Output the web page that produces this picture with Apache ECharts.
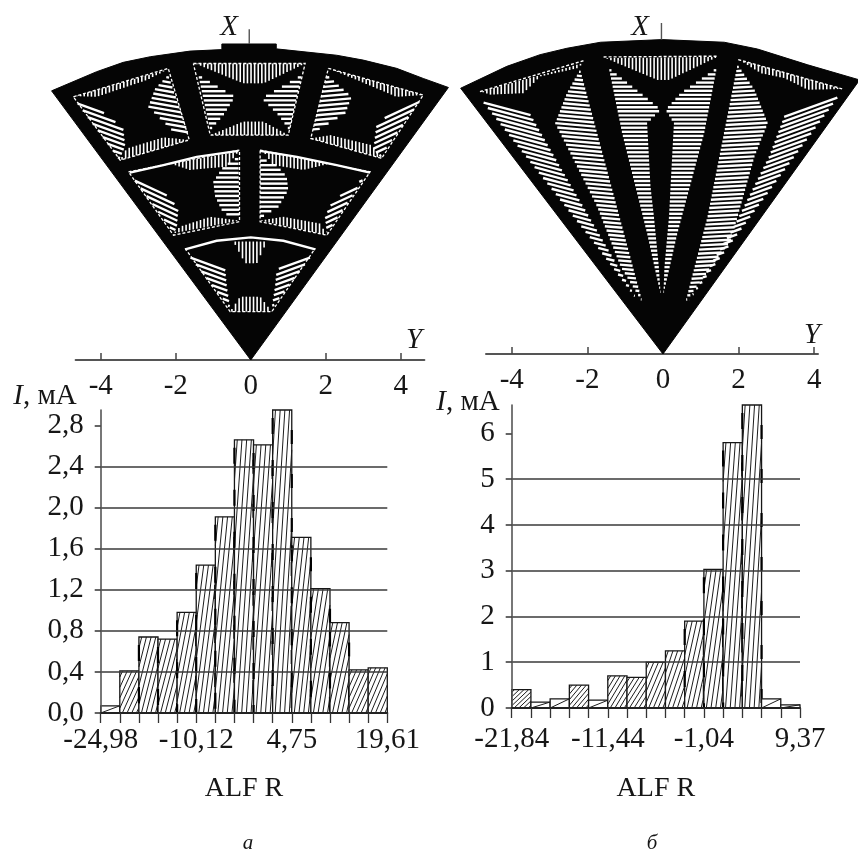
<!DOCTYPE html>
<html><head><meta charset="utf-8">
<style>html,body{margin:0;padding:0;background:#fff}#c{width:858px;height:850px}</style>
<script src="https://cdn.jsdelivr.net/npm/echarts@6/dist/echarts.min.js"></script>
</head><body><div id="c"></div>
<script>
// Histograms
const histAValues = [0.07,0.41,0.74,0.72,0.98,1.44,1.91,2.66,2.61,2.95,1.71,1.21,0.88,0.42,0.44];
const histBValues = [0.40,0.13,0.20,0.50,0.17,0.70,0.67,1.00,1.25,1.90,3.03,5.80,6.62,0.20,0.07];
const histAEdges = {0:'-24,98',5:'-10,12',10:'4,75',15:'19,61'};
const histBEdges = {0:'-21,84',5:'-11,44',10:'-1,04',15:'9,37'};
const histATicks = [0,0.4,0.8,1.2,1.6,2.0,2.4,2.8];
const histBTicks = [0,1,2,3,4,5,6];
const fanTicks = [-4,-2,0,2,4];
// Fan outlines, in X/Y units of each fan's axes
const fanAOutline = [[0,0],[-5.31,7.18],[-4.11,7.69],[-3.40,7.94],[-2.68,8.09],[-1.62,8.24],[-0.77,8.28],[-0.77,8.43],[0.68,8.43],[0.68,8.30],[2.29,8.13],[3.00,8.00],[3.89,7.78],[4.60,7.51],[5.27,7.27]];
const fanBOutline = [[0,0],[-5.35,7.05],[-4.13,7.63],[-3.25,7.94],[-2.54,8.11],[-1.65,8.27],[-0.02,8.34],[1.62,8.27],[2.50,8.09],[3.83,7.67],[5.20,7.27]];
// Striped white zones: tilt in degrees, then polygon
const fanAZones = [
 [-20,[[-4.68,6.93],[-4.02,6.67],[-3.40,6.18],[-3.35,5.69],[-3.50,5.35]]],
 [-10,[[-2.20,7.60],[-1.64,5.96],[-2.06,6.09],[-2.73,6.76],[-2.55,7.24]]],
 [90,[[-4.68,7.04],[-2.20,7.76],[-2.77,7.47],[-4.11,7.02]]],
 [90,[[-3.48,5.33],[-1.64,5.87],[-2.33,5.94],[-3.31,5.64]]],
 [0,[[-1.40,7.60],[-0.42,7.02],[-0.73,6.53],[-1.08,6.13]]],
 [0,[[1.36,7.60],[0.29,6.98],[0.74,6.53],[1.03,6.13]]],
 [90,[[-1.48,7.91],[1.45,7.91],[0.34,7.38],[-0.20,7.38]]],
 [90,[[-1.08,6.00],[1.00,6.00],[0.34,6.36],[-0.20,6.36]]],
 [5,[[2.03,7.60],[2.69,7.02],[2.52,6.58],[1.63,6.04]]],
 [25,[[4.56,6.98],[3.45,5.42],[3.27,5.60],[3.36,6.31],[3.89,6.67]]],
 [90,[[2.07,7.78],[4.60,7.07],[3.89,7.02],[2.83,7.47]]],
 [90,[[1.60,5.91],[3.49,5.38],[3.23,5.73],[2.12,6.00]]],
 [-25,[[-3.17,4.89],[-2.33,4.49],[-1.93,4.04],[-1.97,3.56],[-2.04,3.38]]],
 [0,[[-0.33,5.42],[-0.30,3.78],[-0.73,3.91],[-0.95,4.36],[-1.00,4.76],[-0.73,5.16]]],
 [90,[[-2.15,5.24],[-0.33,5.56],[-0.64,5.16],[-1.62,5.07]]],
 [90,[[-2.06,3.38],[-0.30,3.72],[-1.08,3.82],[-1.88,3.56]]],
 [0,[[0.25,5.38],[0.25,3.78],[0.74,4.09],[1.00,4.53],[0.96,4.89],[0.65,5.24]]],
 [25,[[3.05,4.89],[2.03,3.38],[1.98,3.82],[2.20,4.27],[2.65,4.53]]],
 [90,[[0.34,5.56],[2.12,5.24],[1.40,5.07],[0.60,5.20]]],
 [90,[[0.25,3.72],[2.03,3.33],[1.85,3.64],[0.87,3.82]]],
 [-20,[[-1.66,2.80],[-0.55,1.38],[-0.64,1.96],[-0.68,2.40],[-1.26,2.67]]],
 [20,[[1.63,2.80],[0.56,1.38],[0.65,1.96],[0.69,2.40],[1.23,2.67]]],
 [90,[[-0.46,3.16],[0.43,3.16],[0.16,2.58],[-0.15,2.58]]],
 [90,[[-0.55,1.29],[0.56,1.29],[0.25,1.69],[-0.28,1.69]]]
];
const fanBZones = [
 [-15,[[-4.80,6.74],[-3.51,6.35],[-2.63,4.80],[-0.68,1.43],[-1.74,2.85]]],
 [-5,[[-2.19,7.54],[-0.55,1.39],[-1.12,2.32],[-1.74,3.91],[-2.36,5.15],[-2.85,6.12],[-2.54,6.92]]],
 [90,[[-4.80,6.96],[-2.10,7.72],[-2.27,7.58],[-3.25,7.36],[-3.69,6.92],[-4.58,6.88]]],
 [0,[[-1.43,7.58],[-0.37,6.74],[-0.06,6.48],[-0.42,6.12],[-0.33,4.44],[-0.24,3.65],[-0.11,2.32],[-0.06,1.57],[-0.42,3.20],[-1.08,5.86]]],
 [0,[[1.42,7.58],[0.47,6.92],[0.07,6.48],[0.29,6.12],[0.20,4.44],[0.16,3.65],[0.04,2.32],[0.01,1.57],[0.38,3.20],[1.09,5.86]]],
 [90,[[-1.52,7.85],[1.44,7.88],[0.16,7.27],[-0.15,7.27]]],
 [3,[[1.97,7.67],[2.42,7.01],[2.77,6.12],[2.42,5.24],[1.80,3.03],[0.60,1.39],[1.18,3.65]]],
 [20,[[4.67,6.88],[3.21,6.30],[2.81,5.24],[1.88,3.38],[0.69,1.43]]],
 [90,[[2.00,7.81],[4.74,7.03],[3.83,7.01],[3.21,7.32],[2.59,7.45]]]
];
// White rims along the arc edge of the lower cells
const fanARims = [
 [[-3.22,5.00],[-2.33,5.20],[-1.44,5.42],[-0.33,5.58]],
 [[0.25,5.58],[1.23,5.42],[2.29,5.20],[3.18,5.00]],
 [[-1.75,2.95],[-0.91,3.18],[0,3.27],[0.87,3.18],[1.72,2.95]]
];
// Speckled outline of each cell
const fanACells = [
 [[-4.73,7.02],[-2.20,7.78],[-1.64,5.87],[-3.48,5.33],[-4.73,7.02]],
 [[-1.53,7.91],[1.45,7.91],[1.00,6.00],[-1.08,6.00],[-1.53,7.91]],
 [[2.07,7.78],[4.60,7.07],[3.49,5.38],[1.60,5.91],[2.07,7.78]],
 [[-3.26,5.02],[-0.30,5.60],[-0.30,3.69],[-2.06,3.33],[-3.26,5.02]],
 [[0.25,5.60],[3.18,5.02],[2.03,3.33],[0.25,3.69],[0.25,5.60]],
 [[-1.75,2.98],[-0.55,1.29],[0.56,1.29],[1.72,2.98]]
];
const fanBCells = [
 [[-4.84,6.96],[-2.10,7.78]],
 [[-1.57,7.88],[1.46,7.90]],
 [[1.99,7.81],[4.75,7.03]]
];
const fanAXTick = [[-0.04,8.43],[-0.04,8.82]];
const fanBXTick = [[-0.04,8.34],[-0.04,8.78]];

const FONT = 'Liberation Serif';
const FS = 29;
const INK = '#161616';

function polygonSeries(grid, pts){
  return {type:'custom',xAxisIndex:grid,yAxisIndex:grid,silent:true,clip:false,data:[[0]],
    renderItem:(p,api)=>({type:'polygon',shape:{points:pts.map(q=>api.coord(q))},style:{fill:'#050505',stroke:'#050505',lineWidth:1}})};
}
function stripesSeries(grid, zones, gap){
  return {type:'custom',xAxisIndex:grid,yAxisIndex:grid,silent:true,clip:false,
    data:zones.map((z,i)=>[i]),
    renderItem:(p,api)=>{
      const z=zones[api.value(0)], t=z[0]*Math.PI/180, pts=z[1].map(q=>api.coord(q));
      const dx=Math.cos(t), dy=-Math.sin(t), nx=Math.sin(t), ny=Math.cos(t);
      const proj=pts.map(q=>q[0]*nx+q[1]*ny);
      const step=z[0]===90?3.6:gap, children=[];
      for(let c=Math.min(...proj)+step/2;c<Math.max(...proj);c+=step){
        const hits=[];
        for(let i=0;i<pts.length;i++){
          const j=(i+1)%pts.length,a=proj[i],b=proj[j];
          if((a-c)*(b-c)<0){
            const f=(c-a)/(b-a);
            const x=pts[i][0]+f*(pts[j][0]-pts[i][0]), y=pts[i][1]+f*(pts[j][1]-pts[i][1]);
            hits.push({x,y,s:x*dx+y*dy});
          }
        }
        hits.sort((u,v)=>u.s-v.s);
        for(let k=0;k+1<hits.length;k+=2){
          children.push({type:'line',shape:{x1:hits[k].x,y1:hits[k].y,x2:hits[k+1].x,y2:hits[k+1].y},
            style:{stroke:'#fff',lineWidth:z[0]===90?1.6:2.4}});
        }
      }
      return {type:'group',children};
    }};
}
function polylineSeries(grid, lines, color, width, dash){
  return {type:'custom',xAxisIndex:grid,yAxisIndex:grid,silent:true,clip:false,
    data:lines.map((l,i)=>[i]),
    renderItem:(p,api)=>({type:'polyline',shape:{points:lines[api.value(0)].map(q=>api.coord(q))},
      style:{stroke:color,lineWidth:width,fill:'none',lineDash:dash||null}})};
}
function barsSeries(grid, values){
  return {type:'custom',xAxisIndex:grid,yAxisIndex:grid,silent:true,z:2,
    data:values.map((v,i)=>[i,v]),
    renderItem:(p,api)=>{
      const i=api.value(0),v=api.value(1);
      const a=api.coord([i,v]),b=api.coord([i+1,0]);
      const xl=a[0],xr=b[0],yt=a[1],yb=b[1],w=xr-xl,h=yb-yt;
      const kids=[{type:'rect',shape:{x:xl,y:yt,width:w,height:h},style:{fill:'#fff',stroke:INK,lineWidth:1.3}}];
      const shift=w/h, spacing=h<14?w*3:4.7;
      for(let x0=xl-h*shift+(h<14?h*shift:spacing*0.6);x0<xr;x0+=spacing){
        let s0=0,s1=h;
        if(x0<xl)s0=(xl-x0)/shift;
        if(x0+h*shift>xr)s1=(xr-x0)/shift;
        if(s1<=s0)continue;
        kids.push({type:'line',shape:{x1:x0+s0*shift,y1:yb-s0,x2:x0+s1*shift,y2:yb-s1},style:{stroke:'#1c1c1c',lineWidth:1}});
      }
      if(h>60){
        kids.push({type:'line',shape:{x1:xl,y1:yt+8,x2:xl,y2:yb},style:{stroke:'#000',lineWidth:2.2,lineDash:[16,26]}});
        kids.push({type:'line',shape:{x1:xr,y1:yt+20,x2:xr,y2:yb},style:{stroke:'#000',lineWidth:2.2,lineDash:[14,30]}});
      }
      return {type:'group',children:kids};
    }};
}
function fanAxis(grid,min,max){
  return {type:'value',gridIndex:grid,min,max,
    axisLine:{show:true,onZero:false,lineStyle:{color:'#555',width:2}},
    axisTick:{show:true,inside:true,length:7,customValues:fanTicks,lineStyle:{color:'#444',width:1.5}},
    axisLabel:{customValues:fanTicks,margin:12,color:INK,fontFamily:FONT,fontSize:FS,hideOverlap:false},
    splitLine:{show:false}};
}
function fanY(grid,max){
  return {type:'value',gridIndex:grid,min:0,max,show:false};
}
function histX(grid,edges,name,margin,gap){
  return {type:'value',gridIndex:grid,min:0,max:15,interval:1,z:5,
    name,nameLocation:'middle',nameGap:gap,
    nameTextStyle:{color:INK,fontFamily:FONT,fontSize:FS-1},
    axisLine:{show:true,onZero:false,lineStyle:{color:'#222',width:2}},
    axisTick:{show:true,length:10,lineStyle:{color:'#333',width:1.3}},
    axisLabel:{customValues:[0,5,10,15],formatter:v=>edges[v],margin,color:INK,fontFamily:FONT,fontSize:FS,hideOverlap:false},
    splitLine:{show:false}};
}
function histY(grid,max,ticks,fmt,step,pad,gap){
  return {type:'value',gridIndex:grid,min:0,max,interval:step,z:5,
    name:'{i|I}, мА',nameLocation:'end',nameGap:gap,
    nameTextStyle:{align:'right',verticalAlign:'middle',padding:[0,pad,0,0],color:INK,fontFamily:FONT,fontSize:FS,
      rich:{i:{fontStyle:'italic',fontFamily:FONT,fontSize:FS,color:INK}}},
    axisLine:{show:true,onZero:false,lineStyle:{color:'#555',width:1.6}},
    axisTick:{show:true,length:6,customValues:ticks,lineStyle:{color:'#333',width:1.5}},
    axisLabel:{customValues:ticks,formatter:fmt,margin:17,color:INK,fontFamily:FONT,fontSize:FS,hideOverlap:false},
    splitLine:{show:true,showMaxLine:false,showMinLine:false,lineStyle:{color:'#3a3a3a',width:1.5}}};
}
const italic=(x,y,t,s)=>({type:'text',x,y,style:{text:t,fontFamily:FONT,fontStyle:'italic',fontSize:s,fill:INK,align:'center',verticalAlign:'middle'}});

const option={
  animation:false,backgroundColor:'#fff',
  grid:[
    {left:75.6,top:20,width:348.8,height:340},
    {left:486,top:20,width:332,height:334},
    {left:100.7,top:410,width:286.6,height:303},
    {left:511.7,top:405,width:288.3,height:303}
  ],
  xAxis:[fanAxis(0,-4.67,4.63),fanAxis(1,-4.68,4.1),histX(2,histAEdges,'ALF R',13,62),histX(3,histBEdges,'ALF R',17,67)],
  yAxis:[fanY(0,9.07),fanY(1,8.86),
    histY(2,2.95,histATicks,v=>v.toFixed(1).replace('.',','),0.4,24,14),
    histY(3,6.62,histBTicks,v=>String(v),1,12,3)],
  series:[
    polygonSeries(0,fanAOutline),polylineSeries(0,fanACells,'#fff',1.3,[3,2]),stripesSeries(0,fanAZones,4.6),polylineSeries(0,fanARims,'#fff',2.4),polylineSeries(0,[fanAXTick],'#555',1.4),
    polygonSeries(1,fanBOutline),polylineSeries(1,fanBCells,'#fff',1.4,[3,2]),stripesSeries(1,fanBZones,4.1),polylineSeries(1,[fanBXTick],'#555',1.4),
    barsSeries(2,histAValues),barsSeries(3,histBValues)
  ],
  graphic:[italic(229,27,'X',29),italic(640,27,'X',29),italic(414,340,'Y',29),italic(812,335,'Y',29),
    italic(248,843,'а',21),italic(652,843,'б',21)]
};
echarts.init(document.getElementById('c'),null,{renderer:'canvas'}).setOption(option);
</script></body></html>
